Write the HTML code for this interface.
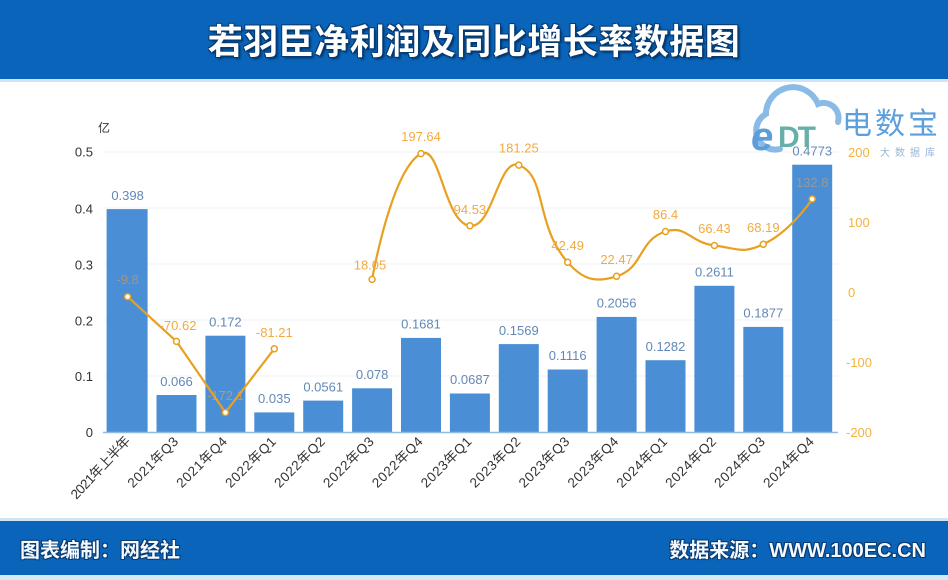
<!DOCTYPE html>
<html><head><meta charset="utf-8">
<style>
html,body{margin:0;padding:0;background:#fff;}
body{width:948px;height:580px;position:relative;overflow:hidden;font-family:"Liberation Sans","Noto Sans CJK SC",sans-serif;}
.top{position:absolute;left:0;top:0;width:948px;height:79px;background:#0964ba;}
.topline{position:absolute;left:0;top:79px;width:948px;height:3px;background:#cfe5f6;}
.title{position:absolute;left:0;top:14px;width:948px;text-align:center;color:#fff;font-size:35px;font-weight:bold;font-family:"Noto Sans CJK SC","WenQuanYi Zen Hei",sans-serif;letter-spacing:0.5px;text-shadow:1px 1px 0 #063a70,-1px -1px 0 #063a70,1px -1px 0 #063a70,-1px 1px 0 #063a70,2px 2px 2px #03305e;line-height:52px;}
.botline{position:absolute;left:0;top:518px;width:948px;height:3px;background:#cfe5f6;}
.bot{position:absolute;left:0;top:521px;width:948px;height:54px;background:#0964ba;}
.botline2{position:absolute;left:0;top:575px;width:948px;height:5px;background:#d6ebf8;}
.ft{position:absolute;top:535px;color:#f4f9ff;font-size:20px;font-weight:bold;line-height:32px;font-family:"Liberation Sans","Noto Sans CJK SC",sans-serif;text-shadow:1px 1px 0 #063a70,-1px -1px 0 #063a70,1px -1px 0 #063a70,-1px 1px 0 #063a70;}
svg{position:absolute;left:0;top:0;}
</style></head><body>
<div class="top"></div><div class="topline"></div>
<div class="title">若羽臣净利润及同比增长率数据图</div>
<div class="botline"></div><div class="bot"></div><div class="botline2"></div>
<div class="ft" style="left:20px;">图表编制：网经社</div>
<div class="ft" style="right:22px;">数据来源：WWW.100EC.CN</div>

<svg width="948" height="580" viewBox="0 0 948 580" xmlns="http://www.w3.org/2000/svg" font-family="Liberation Sans, Noto Sans CJK SC, sans-serif">
  <g stroke="#eef0f4" stroke-width="1">
    <line x1="103" y1="152" x2="838" y2="152"/>
    <line x1="103" y1="208" x2="838" y2="208"/>
    <line x1="103" y1="264" x2="838" y2="264"/>
    <line x1="103" y1="320" x2="838" y2="320"/>
    <line x1="103" y1="376" x2="838" y2="376"/>
  </g>
  <g font-size="13" fill="#333" text-anchor="end">
    <text x="93" y="156.5">0.5</text>
    <text x="93" y="213.5">0.4</text>
    <text x="93" y="269.5">0.3</text>
    <text x="93" y="325.5">0.2</text>
    <text x="93" y="381">0.1</text>
    <text x="93" y="437">0</text>
  </g>
  <text x="104" y="132" font-size="12" fill="#333" text-anchor="middle" font-family="Noto Sans CJK SC, sans-serif">亿</text>
  <g font-size="13" fill="#f3b33e" text-anchor="start">
    <text x="848" y="157">200</text>
    <text x="848" y="227">100</text>
    <text x="848" y="297">0</text>
    <text x="846" y="367">-100</text>
    <text x="846" y="437">-200</text>
  </g>
  <g fill="#4a8fd6">
    <rect x="106.6" y="209.1" width="41" height="222.9"/>
    <rect x="156.5" y="395.0" width="40" height="37.0"/>
    <rect x="205.4" y="335.7" width="40" height="96.3"/>
    <rect x="254.3" y="412.4" width="40" height="19.6"/>
    <rect x="303.2" y="400.6" width="40" height="31.4"/>
    <rect x="352.1" y="388.3" width="40" height="43.7"/>
    <rect x="401.0" y="337.9" width="40" height="94.1"/>
    <rect x="449.9" y="393.5" width="40" height="38.5"/>
    <rect x="498.8" y="344.1" width="40" height="87.9"/>
    <rect x="547.7" y="369.5" width="40" height="62.5"/>
    <rect x="596.6" y="316.9" width="40" height="115.1"/>
    <rect x="645.5" y="360.2" width="40" height="71.8"/>
    <rect x="694.4" y="285.8" width="40" height="146.2"/>
    <rect x="743.3" y="326.9" width="40" height="105.1"/>
    <rect x="792.2" y="164.7" width="40" height="267.3"/>
  </g>
  <line x1="103" y1="432.5" x2="838" y2="432.5" stroke="#8dbbe6" stroke-width="1.5"/>
  <g font-size="13" fill="#6388b6" text-anchor="middle">
    <text x="127.6" y="200">0.398</text>
    <text x="176.5" y="386">0.066</text>
    <text x="225.4" y="326.5">0.172</text>
    <text x="274.3" y="403">0.035</text>
    <text x="323.2" y="391.5">0.0561</text>
    <text x="372.1" y="379">0.078</text>
    <text x="421.0" y="328.5">0.1681</text>
    <text x="469.9" y="384">0.0687</text>
    <text x="518.8" y="335">0.1569</text>
    <text x="567.7" y="360">0.1116</text>
    <text x="616.6" y="307.5">0.2056</text>
    <text x="665.5" y="351">0.1282</text>
    <text x="714.4" y="276.5">0.2611</text>
    <text x="763.3" y="317.5">0.1877</text>
    <text x="812.2" y="155.5">0.4773</text>
  </g>
  <g fill="none" stroke="#e8a020" stroke-width="2.2" stroke-linejoin="round" stroke-linecap="round">
    <path d="M127.6,296.7 L176.5,341.4 L225.4,412.5 L274.3,348.8"/>
    <path d="M372.1,279.4 C372.1,279.4 391.3,169.9 421.0,153.6 C440.2,143.1 444.1,222.8 469.9,225.8 C493.0,228.5 498.4,157.5 518.8,165.1 C547.3,175.7 534.4,224.4 567.7,262.3 C583.3,280.0 595.4,283.0 616.6,276.3 C644.3,267.6 637.8,240.2 665.5,231.5 C686.7,224.8 689.5,242.2 714.4,245.5 C738.4,248.6 742.7,254.1 763.3,244.3 C791.6,230.9 812.2,199 812.2,199"/>
  </g>
  <g fill="#fff" stroke="#e8a020" stroke-width="1.5">
    <circle cx="127.6" cy="296.7" r="3"/>
    <circle cx="176.5" cy="341.4" r="3"/>
    <circle cx="225.4" cy="412.5" r="3"/>
    <circle cx="274.3" cy="348.8" r="3"/>
    <circle cx="372.1" cy="279.4" r="3"/>
    <circle cx="421.0" cy="153.6" r="3"/>
    <circle cx="469.9" cy="225.8" r="3"/>
    <circle cx="518.8" cy="165.1" r="3"/>
    <circle cx="567.7" cy="262.3" r="3"/>
    <circle cx="616.6" cy="276.3" r="3"/>
    <circle cx="665.5" cy="231.5" r="3"/>
    <circle cx="714.4" cy="245.5" r="3"/>
    <circle cx="763.3" cy="244.3" r="3"/>
    <circle cx="812.2" cy="199" r="3"/>
  </g>
  <g font-size="13" fill="#f2aa40" text-anchor="middle">
    <text x="127.6" y="284" fill="#d89a5a" opacity="0.6">-9.8</text>
    <text x="178" y="330">-70.62</text>
    <text x="225.4" y="400" opacity="0.55">-172.1</text>
    <text x="274.3" y="337">-81.21</text>
    <text x="370" y="269.5">18.05</text>
    <text x="421.0" y="141">197.64</text>
    <text x="469.9" y="214">94.53</text>
    <text x="518.8" y="152.5">181.25</text>
    <text x="567.7" y="250">42.49</text>
    <text x="616.6" y="264">22.47</text>
    <text x="665.5" y="219">86.4</text>
    <text x="714.4" y="233">66.43</text>
    <text x="763.3" y="232">68.19</text>
    <text x="812.2" y="187" fill="#d8a060" opacity="0.55">132.8</text>
  </g>
  <g font-size="13.5" fill="#333" text-anchor="end" letter-spacing="0.6">
    <text transform="translate(130.6,442) rotate(-47)" letter-spacing="-0.6">2021年上半年</text>
    <text transform="translate(179.5,442) rotate(-45)">2021年Q3</text>
    <text transform="translate(228.4,442) rotate(-45)">2021年Q4</text>
    <text transform="translate(277.3,442) rotate(-45)">2022年Q1</text>
    <text transform="translate(326.2,442) rotate(-45)">2022年Q2</text>
    <text transform="translate(375.1,442) rotate(-45)">2022年Q3</text>
    <text transform="translate(424.0,442) rotate(-45)">2022年Q4</text>
    <text transform="translate(472.9,442) rotate(-45)">2023年Q1</text>
    <text transform="translate(521.8,442) rotate(-45)">2023年Q2</text>
    <text transform="translate(570.7,442) rotate(-45)">2023年Q3</text>
    <text transform="translate(619.6,442) rotate(-45)">2023年Q4</text>
    <text transform="translate(668.5,442) rotate(-45)">2024年Q1</text>
    <text transform="translate(717.4,442) rotate(-45)">2024年Q2</text>
    <text transform="translate(766.3,442) rotate(-45)">2024年Q3</text>
    <text transform="translate(815.2,442) rotate(-45)">2024年Q4</text>
  </g>
  <g opacity="0.9">
    <path d="M780,149 A19,19 0 0 1 766,114 A27,27 0 0 1 818,104 A15,15 0 0 1 838,122" fill="none" stroke="#7db4e4" stroke-width="6" stroke-linecap="round"/>
    <text x="751" y="150" font-size="40" font-style="italic" font-weight="bold" fill="#4c94d4">e</text>
    <text x="778" y="147" font-size="30" font-weight="bold" fill="#56a8a0" letter-spacing="-2">DT</text>
    <text x="842" y="134" font-size="30" fill="#4b95d6" letter-spacing="3" font-family="Noto Sans CJK SC, sans-serif">电数宝</text>
    <text x="880" y="156" font-size="10" fill="#8cafd2" letter-spacing="5" font-family="Noto Sans CJK SC, sans-serif">大数据库</text>
  </g>
</svg>
</body></html>
